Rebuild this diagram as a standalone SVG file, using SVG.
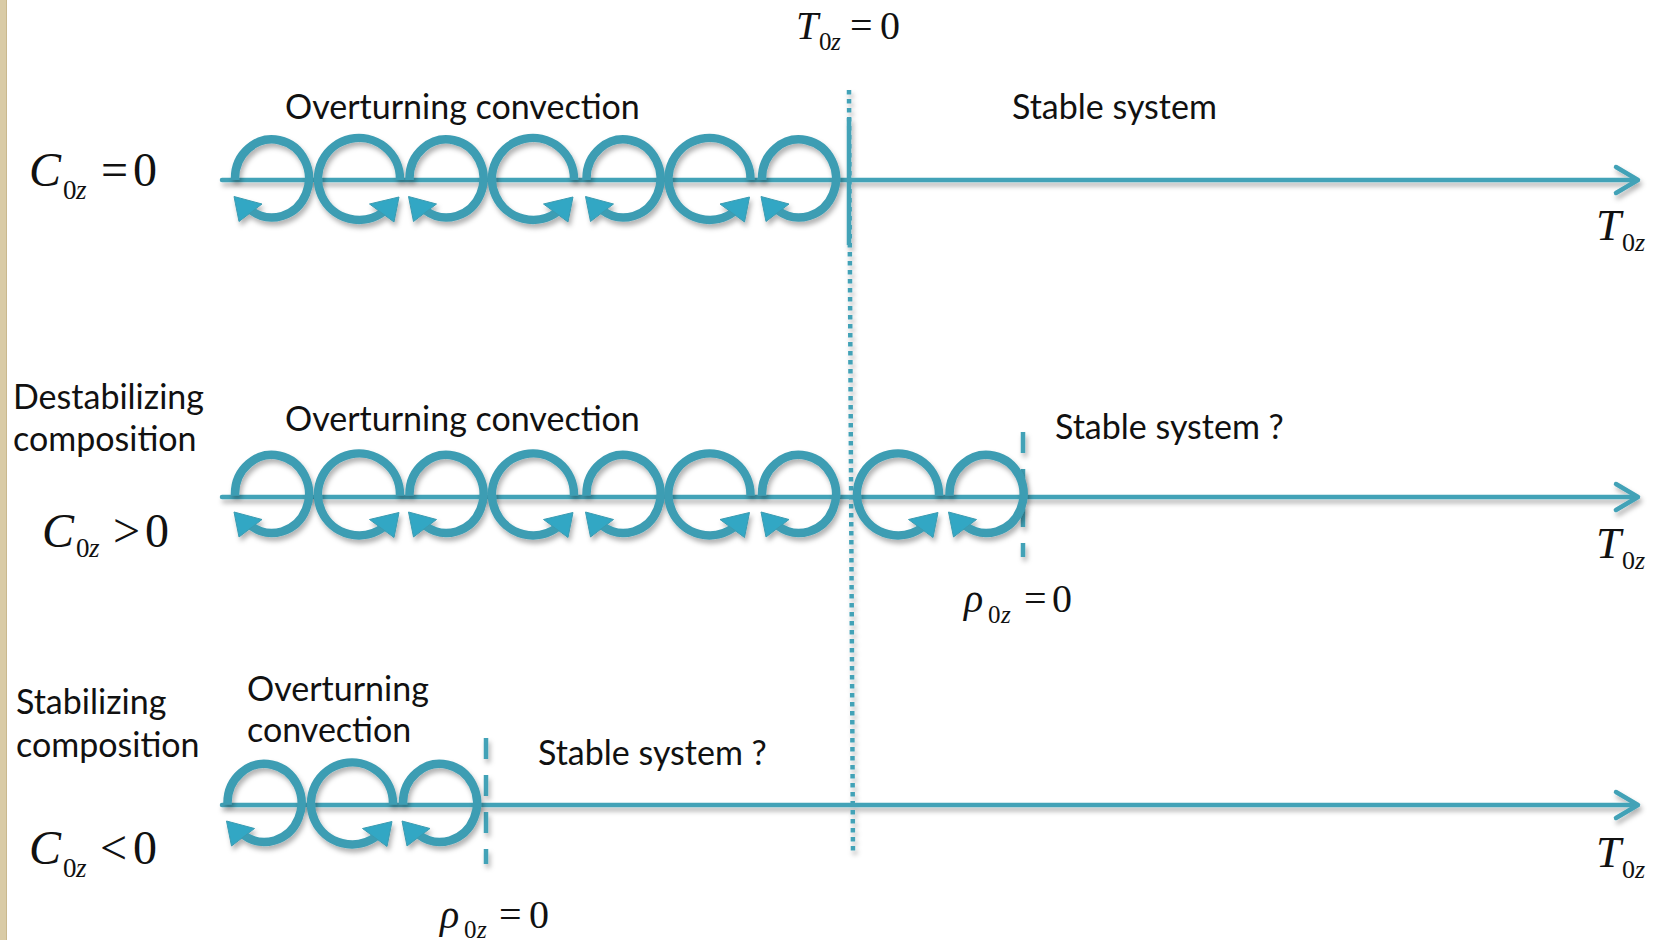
<svg xmlns="http://www.w3.org/2000/svg" xmlns:xlink="http://www.w3.org/1999/xlink" width="1658" height="940" viewBox="0 0 1658 940">
<style>
.ring{fill:none;stroke:#3e9db3;stroke-width:8.5;stroke-linecap:butt}
.head{fill:#33a7c4;stroke:#3a9bb1;stroke-width:1;stroke-linejoin:round}
.axis{fill:none;stroke:#42a2b7;stroke-width:4.5;stroke-linecap:round;stroke-linejoin:round}
.dot{fill:none;stroke:#42a2b7;stroke-width:4.5;stroke-dasharray:4.5 4.5}
.dash{fill:none;stroke:#42a2b7;stroke-width:4.5;stroke-dasharray:21 16}
.solid{fill:none;stroke:#42a2b7;stroke-width:4.5}
.lbl{font-family:Lato,"Open Sans",sans-serif;font-size:34px;fill:#111}
.m{font-family:"Liberation Serif","Times New Roman",serif;fill:#111}
.it{font-style:italic}
</style>
<defs>
<filter id="sh" x="-10%" y="-20%" width="120%" height="160%">
<feDropShadow dx="2" dy="4" stdDeviation="2.5" flood-color="#000" flood-opacity="0.3"/>
</filter>
<g id="loopA">
<path class="ring" d="M -37 0 L -37 -1.5 A 37 39 0 1 1 -21.2 30.4"/>
<polygon class="head" points="-38,16.5 -10,24 -33,41.5"/>
</g>
<g id="loopB">
<path class="ring" d="M 41 0 L 41 -1 A 41 41 0 1 0 24.7 31.7"/>
<polygon class="head" points="40,17 10.5,24 35,42"/>
</g>
</defs>
<rect x="0" y="0" width="1658" height="940" fill="#ffffff"/>
<g id="border">
<rect x="0" y="0" width="7" height="940" fill="#d9cba6"/>
<rect x="6" y="0" width="1" height="940" fill="#c9b88e"/>
</g>

<g id="connectors" filter="url(#sh)">
<line class="dot" x1="849" y1="90" x2="853" y2="854"/>
<line class="solid" x1="849" y1="118" x2="849" y2="245"/>
<line class="dash" x1="1023" y1="432" x2="1023" y2="557"/>
<line class="dash" x1="486" y1="738" x2="486" y2="864"/>
<g id="axis1"><line class="axis" x1="222" y1="180" x2="1636" y2="180"/><polyline class="axis" points="1616,167 1638,180 1616,193"/></g>
<g id="axis2"><line class="axis" x1="222" y1="497" x2="1636" y2="497"/><polyline class="axis" points="1616,484 1638,497 1616,510"/></g>
<g id="axis3"><line class="axis" x1="222" y1="805" x2="1636" y2="805"/><polyline class="axis" points="1616,792 1638,805 1616,818"/></g>
</g>

<g id="row1-loops" filter="url(#sh)">
<g id="r1l1" transform="translate(272,180)"><use xlink:href="#loopA"/></g>
<g id="r1l2" transform="translate(359,180)"><use xlink:href="#loopB"/></g>
<g id="r1l3" transform="translate(446.5,180)"><use xlink:href="#loopA"/></g>
<g id="r1l4" transform="translate(533,180)"><use xlink:href="#loopB"/></g>
<g id="r1l5" transform="translate(623.5,180)"><use xlink:href="#loopA"/></g>
<g id="r1l6" transform="translate(709.5,180)"><use xlink:href="#loopB"/></g>
<g id="r1l7" transform="translate(799,180)"><use xlink:href="#loopA"/></g>
</g>
<g id="row2-loops" filter="url(#sh)">
<g id="r2l1" transform="translate(272,495.5)"><use xlink:href="#loopA"/></g>
<g id="r2l2" transform="translate(359,495.5)"><use xlink:href="#loopB"/></g>
<g id="r2l3" transform="translate(446.5,495.5)"><use xlink:href="#loopA"/></g>
<g id="r2l4" transform="translate(533,495.5)"><use xlink:href="#loopB"/></g>
<g id="r2l5" transform="translate(623.5,495.5)"><use xlink:href="#loopA"/></g>
<g id="r2l6" transform="translate(709.5,495.5)"><use xlink:href="#loopB"/></g>
<g id="r2l7" transform="translate(799,495.5)"><use xlink:href="#loopA"/></g>
<g id="r2l8" transform="translate(898,495.5)"><use xlink:href="#loopB"/></g>
<g id="r2l9" transform="translate(986.5,495.5)"><use xlink:href="#loopA"/></g>
</g>
<g id="row3-loops" filter="url(#sh)">
<g id="r3l1" transform="translate(264.5,804.5)"><use xlink:href="#loopA"/></g>
<g id="r3l2" transform="translate(352,804.5)"><use xlink:href="#loopB"/></g>
<g id="r3l3" transform="translate(440,804.5)"><use xlink:href="#loopA"/></g>
</g>

<g id="labels">
<text class="lbl" x="285" y="119">Overturning convection</text>
<text class="lbl" x="1012" y="119">Stable system</text>
<text class="lbl" x="285" y="431">Overturning convection</text>
<text class="lbl" x="1055" y="439">Stable system ?</text>
<text class="lbl" x="247" y="701">Overturning</text>
<text class="lbl" x="247" y="742">convection</text>
<text class="lbl" x="538" y="765">Stable system ?</text>
<text class="lbl" x="13" y="409">Destabilizing</text>
<text class="lbl" x="13" y="451">composition</text>
<text class="lbl" x="16" y="714">Stabilizing</text>
<text class="lbl" x="16" y="757">composition</text>
</g>

<g id="math-top">
<text class="m it" x="796" y="39" font-size="40">T</text>
<text class="m" x="819" y="50" font-size="25">0</text>
<text class="m it" x="831" y="50" font-size="25">z</text>
<text class="m" x="850" y="39" font-size="40">=</text>
<text class="m" x="880" y="39" font-size="40">0</text>
</g>
<g id="math-c1">
<text class="m it" x="29" y="186" font-size="48">C</text>
<text class="m" x="63" y="199" font-size="27">0</text>
<text class="m it" x="76" y="199" font-size="27">z</text>
<text class="m" x="101" y="186" font-size="48">=</text>
<text class="m" x="133" y="186" font-size="48">0</text>
</g>
<g id="math-c2">
<text class="m it" x="42" y="547" font-size="48">C</text>
<text class="m" x="76" y="557" font-size="27">0</text>
<text class="m it" x="89" y="557" font-size="27">z</text>
<text class="m" x="113" y="547" font-size="48">&gt;</text>
<text class="m" x="145" y="547" font-size="48">0</text>
</g>
<g id="math-c3">
<text class="m it" x="29" y="864" font-size="48">C</text>
<text class="m" x="63" y="877" font-size="27">0</text>
<text class="m it" x="76" y="877" font-size="27">z</text>
<text class="m" x="100" y="864" font-size="48">&lt;</text>
<text class="m" x="133" y="864" font-size="48">0</text>
</g>
<g id="math-t1">
<text class="m it" x="1596" y="240" font-size="45">T</text>
<text class="m" x="1622" y="251" font-size="26">0</text>
<text class="m it" x="1635" y="251" font-size="26">z</text>
</g>
<g id="math-t2">
<text class="m it" x="1596" y="558" font-size="45">T</text>
<text class="m" x="1622" y="569" font-size="26">0</text>
<text class="m it" x="1635" y="569" font-size="26">z</text>
</g>
<g id="math-t3">
<text class="m it" x="1596" y="867" font-size="45">T</text>
<text class="m" x="1622" y="878" font-size="26">0</text>
<text class="m it" x="1635" y="878" font-size="26">z</text>
</g>
<g id="math-rho2">
<text class="m it" x="964" y="612" font-size="40">ρ</text>
<text class="m" x="988" y="623" font-size="25">0</text>
<text class="m it" x="1001" y="623" font-size="25">z</text>
<text class="m" x="1024" y="612" font-size="40">=</text>
<text class="m" x="1052" y="612" font-size="40">0</text>
</g>
<g id="math-rho3">
<text class="m it" x="440" y="928" font-size="40">ρ</text>
<text class="m" x="464" y="938" font-size="25">0</text>
<text class="m it" x="477" y="938" font-size="25">z</text>
<text class="m" x="499" y="928" font-size="40">=</text>
<text class="m" x="529" y="928" font-size="40">0</text>
</g>
</svg>
